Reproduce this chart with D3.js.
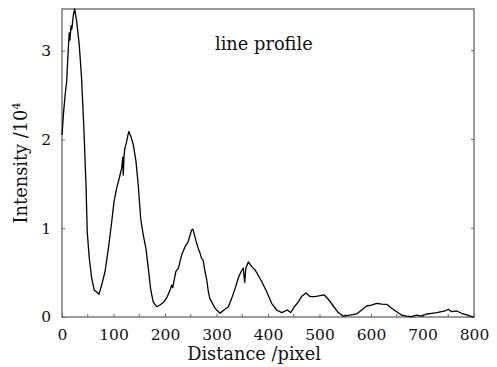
<!DOCTYPE html>
<html>
<head>
<meta charset="utf-8">
<script src="https://cdn.jsdelivr.net/npm/d3@7"></script>
<style>
  body { margin: 0; background: #fff; }
  text { font-family: "DejaVu Serif", "Liberation Serif", serif; fill: #111; }
</style>
</head>
<body>
<svg id="chart"></svg>
<script>
const W = 497, H = 367;
const margin = { top: 9, right: 23, bottom: 50, left: 62 };

// distance in pixels along the profile
const distance = [
  0, 3, 6, 9, 12, 14, 15.5, 17.5, 19, 22, 24.6, 28.5, 33.6, 38, 42.7, 46.6, 49, 53, 57.6, 62.7,
  67, 71.8, 77, 83.5, 90, 96.5, 101, 106, 111, 116, 118, 119, 120.5, 122, 125.6, 128, 130, 132, 134, 138.5,
  143.7, 148, 152.8, 157.9, 163, 167.6, 172, 177, 183.8, 190, 198, 204.5, 209.7, 213, 215, 218, 221, 226, 229, 232.4,
  238.8, 245, 249, 251.8, 254, 256, 260, 264.7, 268, 271, 274, 277.7, 281, 284, 287, 297, 306.8, 314.6, 323, 329.5,
  336, 342.3, 347.6, 352, 354.7, 357, 361.8, 368, 374.8, 381, 387.7, 397.5, 407, 416.9, 426.6, 437.5, 444, 452.4, 459, 465,
  473.8, 481.5, 491, 501, 508.7, 517, 526.8, 536.5, 546, 559, 572, 582, 591.6, 601, 611, 620.8, 630.5, 640, 650, 659.6,
  669, 679, 688.7, 698.4, 708, 718, 727.6, 737, 743.7, 750, 756.7, 766.4, 776, 786, 795.5, 800
];
// intensity in units of 10^4
const intensity = [
  2.05, 2.3, 2.5, 2.65, 3.0, 3.2, 3.12, 3.28, 3.24, 3.40, 3.47, 3.33, 3.06, 2.69, 2.09, 1.49, 0.96, 0.66, 0.44, 0.30,
  0.285, 0.256, 0.36, 0.51, 0.77, 1.07, 1.30, 1.45, 1.56, 1.68, 1.80, 1.60, 1.82, 1.90, 1.975, 2.05, 2.09, 2.06, 2.03, 1.94,
  1.75, 1.49, 1.11, 0.92, 0.77, 0.55, 0.32, 0.17, 0.116, 0.135, 0.17, 0.23, 0.30, 0.36, 0.33, 0.42, 0.51, 0.55, 0.62, 0.70,
  0.79, 0.85, 0.93, 0.98, 0.99, 0.95, 0.86, 0.77, 0.72, 0.66, 0.64, 0.51, 0.42, 0.29, 0.21, 0.10, 0.042, 0.079, 0.116, 0.21,
  0.32, 0.44, 0.51, 0.55, 0.39, 0.55, 0.62, 0.57, 0.53, 0.47, 0.40, 0.285, 0.154, 0.079, 0.05, 0.079, 0.05, 0.124, 0.17, 0.23,
  0.27, 0.23, 0.23, 0.24, 0.25, 0.20, 0.124, 0.05, 0.01, 0.02, 0.034, 0.079, 0.124, 0.135, 0.154, 0.146, 0.143, 0.098, 0.06, 0.02,
  0.01, 0.003, 0.02, 0.01, 0.034, 0.042, 0.05, 0.06, 0.068, 0.087, 0.06, 0.068, 0.042, 0.023, 0.003, 0.0
];

const xTicks = [0, 100, 200, 300, 400, 500, 600, 700, 800];
const xMinorTicks = [50, 150, 250, 350, 450, 550, 650, 750];
const yTicks = [0, 1, 2, 3];

const svg = d3.select("#chart").attr("width", W).attr("height", H);
const innerW = W - margin.left - margin.right;
const innerH = H - margin.top - margin.bottom;

const x = d3.scaleLinear().domain([0, 800]).range([0, innerW]);
const y = d3.scaleLinear().domain([0, 3.47]).range([innerH, 0]);

const g = svg.append("g").attr("transform", `translate(${margin.left},${margin.top})`);

// frame
g.append("rect")
  .attr("width", innerW).attr("height", innerH)
  .attr("fill", "none").attr("stroke", "#666").attr("stroke-width", 1.3);

// bottom axis, ticks pointing in
const xAxis = g.append("g")
  .attr("transform", `translate(0,${innerH})`)
  .call(d3.axisBottom(x).tickValues(xTicks).tickSizeInner(-3).tickSizeOuter(0).tickFormat(d3.format("d")));
xAxis.selectAll(".tick text").attr("y", 12).style("font-size", "15.5px");

g.append("g")
  .selectAll("line")
  .data(xMinorTicks)
  .join("line")
  .attr("x1", (d) => x(d)).attr("x2", (d) => x(d))
  .attr("y1", innerH).attr("y2", innerH - 3)
  .attr("stroke", "#666");

// left axis
const yAxis = g.append("g")
  .call(d3.axisLeft(y).tickValues(yTicks).tickSizeInner(-3).tickSizeOuter(0).tickPadding(11).tickFormat(d3.format("d")));
yAxis.selectAll(".tick text").style("font-size", "15.5px");

// right side ticks
g.append("g")
  .selectAll("line")
  .data(yTicks.slice(1))
  .join("line")
  .attr("x1", innerW).attr("x2", innerW - 3)
  .attr("y1", (d) => y(d)).attr("y2", (d) => y(d))
  .attr("stroke", "#666");

[xAxis, yAxis].forEach((a) => {
  a.select(".domain").remove();
  a.selectAll(".tick line").attr("stroke", "#666");
});

// profile line
const pts = distance.map((d, i) => [d, intensity[i]]);
g.append("path")
  .datum(pts)
  .attr("fill", "none")
  .attr("stroke", "#000")
  .attr("stroke-width", 1.3)
  .attr("stroke-linejoin", "round")
  .attr("d", d3.line().x((d) => x(d[0])).y((d) => y(d[1])));

// in-plot title
svg.append("text")
  .attr("x", 215).attr("y", 50)
  .style("font-size", "17.8px")
  .text("line profile");

// axis labels
svg.append("text")
  .attr("x", 254).attr("y", 360)
  .attr("text-anchor", "middle")
  .style("font-size", "17.8px")
  .text("Distance /pixel");

const yl = svg.append("text")
  .attr("transform", "translate(27,163) rotate(-90)")
  .attr("text-anchor", "middle")
  .style("font-size", "17.8px");
yl.append("tspan").text("Intensity /10");
yl.append("tspan").attr("dy", -7).style("font-size", "11px").text("4");
</script>
</body>
</html>
